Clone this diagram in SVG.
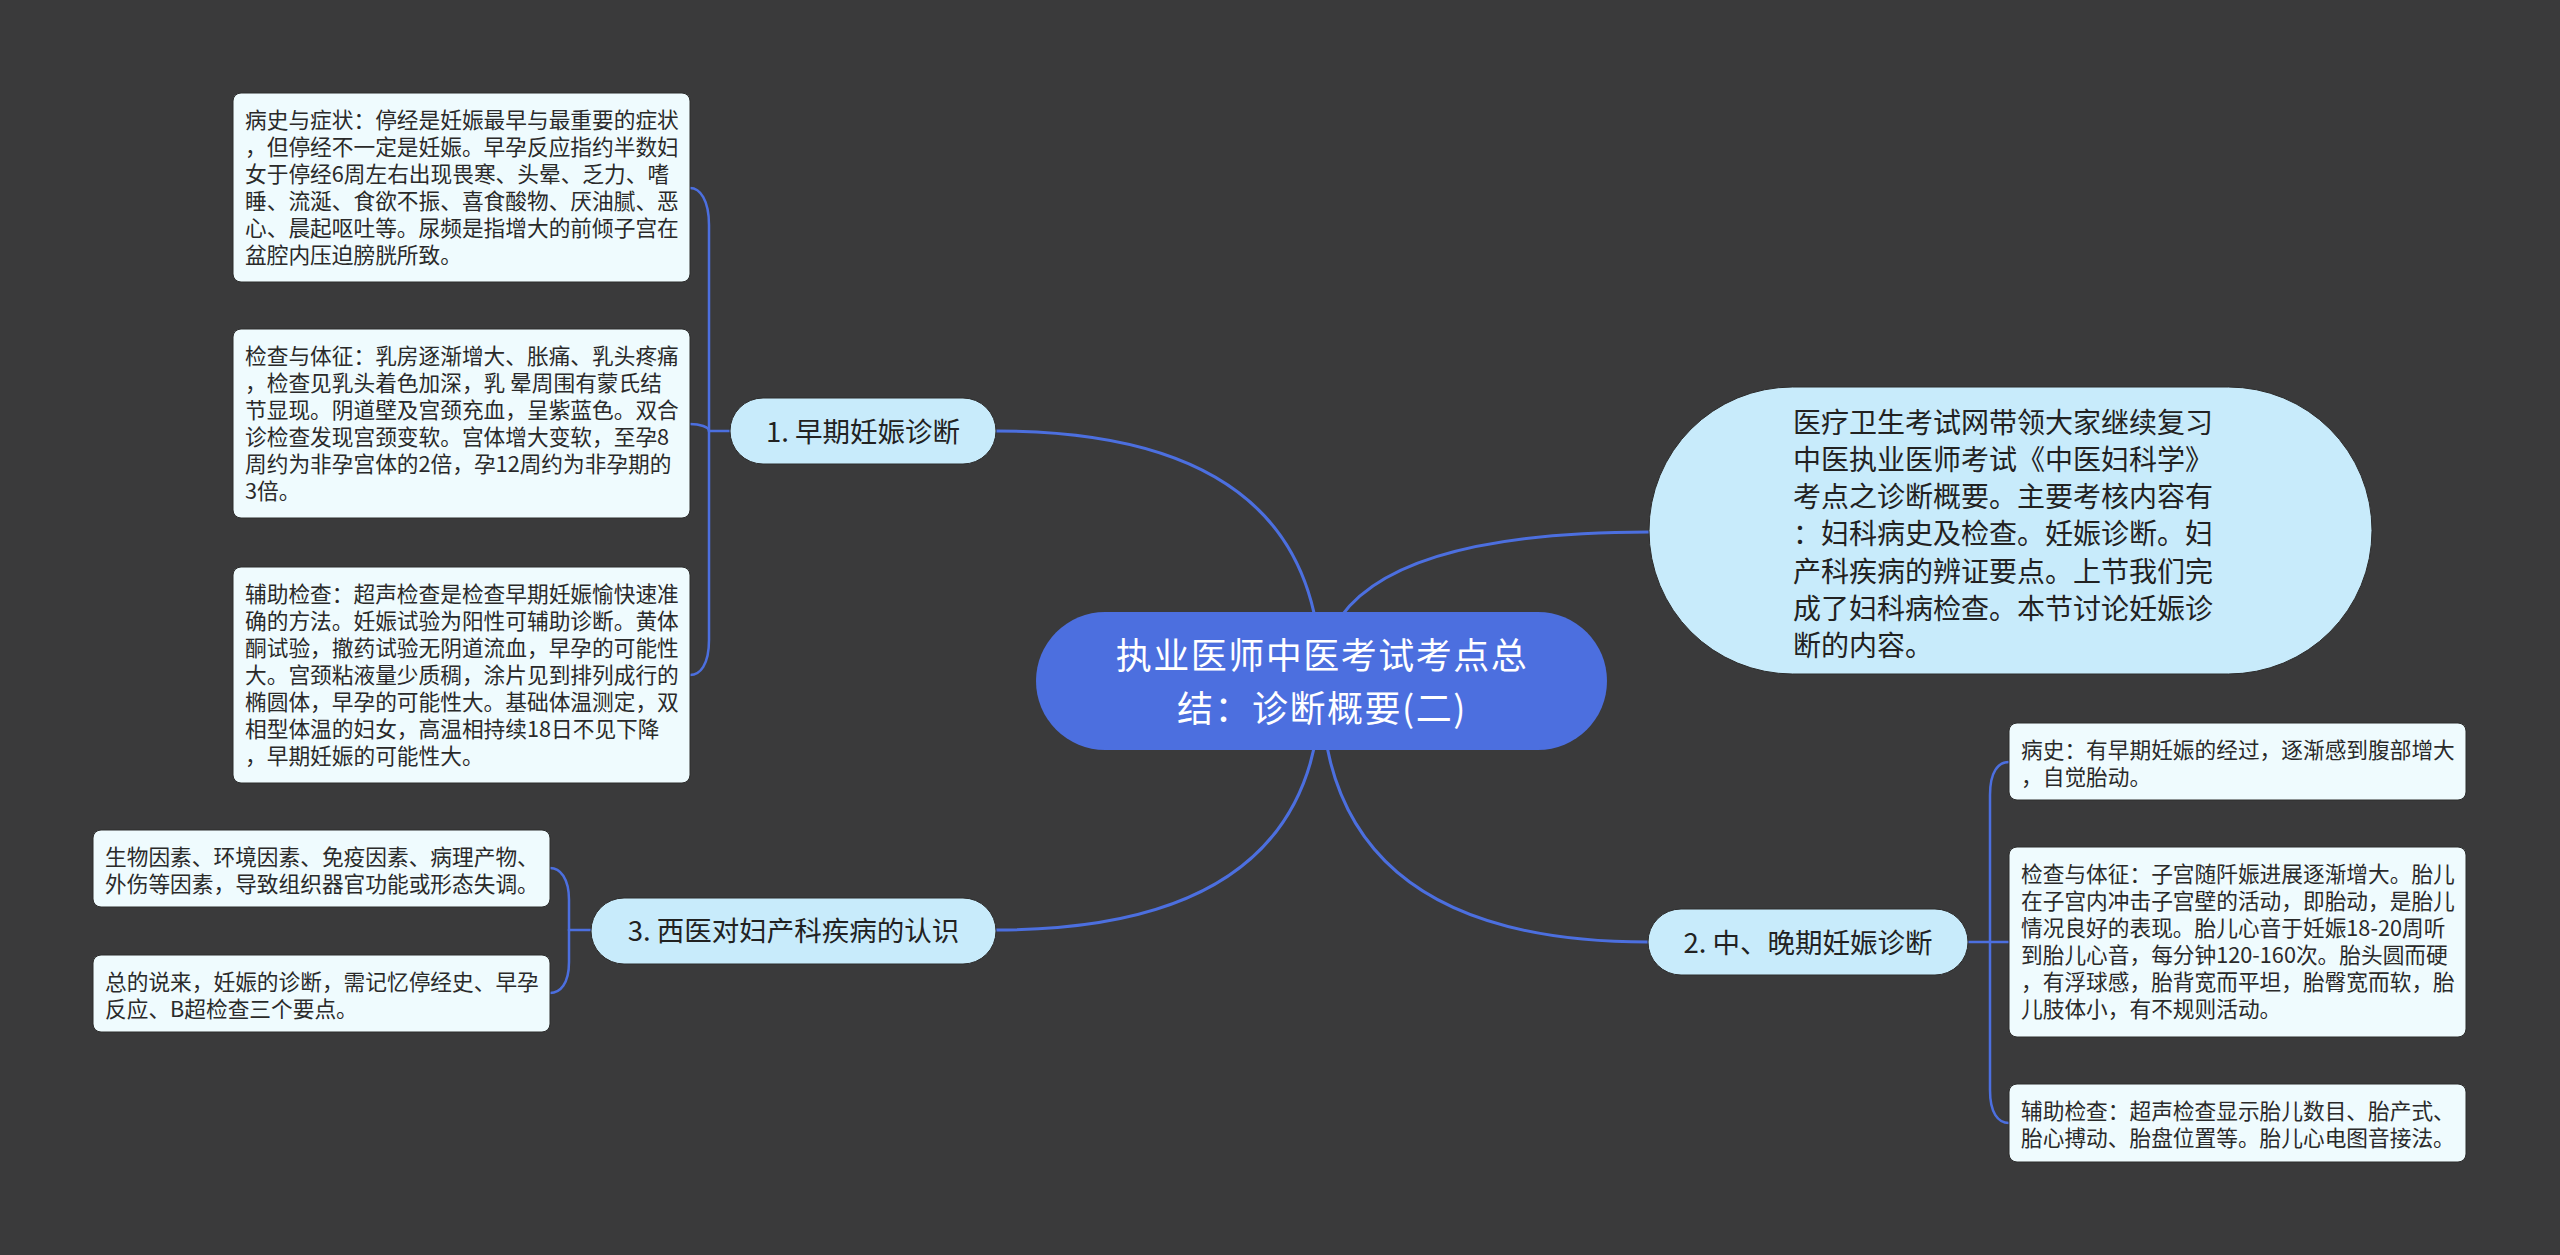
<svg xmlns="http://www.w3.org/2000/svg" width="2560" height="1255" viewBox="0 0 2560 1255">
<style>
.bg{fill:#3a3a3b}
.ln{fill:none;stroke:#4c6fdf;stroke-width:3;stroke-linecap:round}
.sl{fill:none;stroke:#4c6fdf;stroke-width:2.5;stroke-linecap:round}
.leaf{fill:#effbfe;stroke:#2c2c2c;stroke-width:1}
.pill{fill:#c8ebfb;stroke:#2c2c2c;stroke-width:1}
.root{fill:#4c6fdf}
.lt{font-family:"Noto Sans CJK SC","Noto Sans",sans-serif;font-size:21.7px;fill:#2a2a2a}
.pt{font-family:"Noto Sans CJK SC","Noto Sans",sans-serif;font-size:27.5px;fill:#222;text-anchor:middle}
.dt{font-family:"Noto Sans CJK SC","Noto Sans",sans-serif;font-size:28px;fill:#222}
.rt{font-family:"Noto Sans CJK SC","Noto Sans",sans-serif;font-size:36px;letter-spacing:1.5px;fill:#fff;text-anchor:middle}
</style>
<rect class="bg" x="0" y="0" width="2560" height="1255"/>
<g id="connectors">
<path class="ln" d="M1321 681 Q1321 431 996 431"/>
<path class="ln" d="M1321 681 Q1321 532 1649 532"/>
<path class="ln" d="M1321 681 Q1321 942 1648 942"/>
<path class="ln" d="M1321 681 Q1321 930 996 930"/>
<path class="sl" d="M730 431 L709 431"/>
<path class="sl" d="M709 431 L709 225 C709 200 700 188 690 188"/>
<path class="sl" d="M709 431 C709 427 700 424 690 424"/>
<path class="sl" d="M709 431 L709 640 C709 665 700 675 690 675"/>
<path class="sl" d="M591 930 L569 930"/>
<path class="sl" d="M569 930 L569 900 C569 878 560 868 550 868"/>
<path class="sl" d="M569 930 L569 962 C569 984 560 993 550 993"/>
<path class="sl" d="M1968 942 L2009 942"/>
<path class="sl" d="M1990 942 L1990 795 C1990 772 1998 762 2009 762"/>
<path class="sl" d="M1990 942 L1990 1090 C1990 1113 1998 1123 2009 1123"/>
</g>
<g id="root">
<rect class="root" x="1036" y="612" width="571" height="138" rx="69"/>
<text class="rt"><tspan x="1322" y="668.5">执业医师中医考试考点总</tspan><tspan x="1322" y="721.5">结：诊断概要(二)</tspan></text>
</g>
<g id="desc">
<rect class="pill" x="1649" y="387" width="723" height="287" rx="143.5"/>
<text class="dt" x="1793" y="432.5">医疗卫生考试网带领大家继续复习</text>
<text class="dt" x="1793" y="469.8">中医执业医师考试《中医妇科学》</text>
<text class="dt" x="1793" y="507.1">考点之诊断概要。主要考核内容有</text>
<text class="dt" x="1793" y="544.4">：妇科病史及检查。妊娠诊断。妇</text>
<text class="dt" x="1793" y="581.7">产科疾病的辨证要点。上节我们完</text>
<text class="dt" x="1793" y="619">成了妇科病检查。本节讨论妊娠诊</text>
<text class="dt" x="1793" y="656.3">断的内容。</text>
</g>
<g id="n1">
<rect class="pill" x="730" y="398" width="266" height="66" rx="33"/>
<text class="pt" x="863" y="441.5">1. 早期妊娠诊断</text>
</g>
<g id="n2">
<rect class="pill" x="1648" y="909" width="320" height="66" rx="33"/>
<text class="pt" x="1808" y="952.5">2. 中、晚期妊娠诊断</text>
</g>
<g id="n3">
<rect class="pill" x="591" y="898" width="405" height="66" rx="33"/>
<text class="pt" x="793.5" y="941">3. 西医对妇产科疾病的认识</text>
</g>
<g id="leafA">
<rect class="leaf" x="233" y="93" width="457" height="189" rx="8"/>
<text class="lt" x="245" y="128">病史与症状：停经是妊娠最早与最重要的症状</text>
<text class="lt" x="245" y="155">，但停经不一定是妊娠。早孕反应指约半数妇</text>
<text class="lt" x="245" y="182">女于停经6周左右出现畏寒、头晕、乏力、嗜</text>
<text class="lt" x="245" y="209">睡、流涎、食欲不振、喜食酸物、厌油腻、恶</text>
<text class="lt" x="245" y="236">心、晨起呕吐等。尿频是指增大的前倾子宫在</text>
<text class="lt" x="245" y="263">盆腔内压迫膀胱所致。</text>
</g>
<g id="leafB">
<rect class="leaf" x="233" y="329" width="457" height="189" rx="8"/>
<text class="lt" x="245" y="364">检查与体征：乳房逐渐增大、胀痛、乳头疼痛</text>
<text class="lt" x="245" y="391" xml:space="preserve">，检查见乳头着色加深，乳 晕周围有蒙氏结</text>
<text class="lt" x="245" y="418">节显现。阴道壁及宫颈充血，呈紫蓝色。双合</text>
<text class="lt" x="245" y="445">诊检查发现宫颈变软。宫体增大变软，至孕8</text>
<text class="lt" x="245" y="472">周约为非孕宫体的2倍，孕12周约为非孕期的</text>
<text class="lt" x="245" y="499">3倍。</text>
</g>
<g id="leafC">
<rect class="leaf" x="233" y="567" width="457" height="216" rx="8"/>
<text class="lt" x="245" y="602">辅助检查：超声检查是检查早期妊娠愉快速准</text>
<text class="lt" x="245" y="629">确的方法。妊娠试验为阳性可辅助诊断。黄体</text>
<text class="lt" x="245" y="656">酮试验，撤药试验无阴道流血，早孕的可能性</text>
<text class="lt" x="245" y="683">大。宫颈粘液量少质稠，涂片见到排列成行的</text>
<text class="lt" x="245" y="710">椭圆体，早孕的可能性大。基础体温测定，双</text>
<text class="lt" x="245" y="737">相型体温的妇女，高温相持续18日不见下降</text>
<text class="lt" x="245" y="764">，早期妊娠的可能性大。</text>
</g>
<g id="leafD">
<rect class="leaf" x="93" y="830" width="457" height="77" rx="8"/>
<text class="lt" x="105" y="865">生物因素、环境因素、免疫因素、病理产物、</text>
<text class="lt" x="105" y="892">外伤等因素，导致组织器官功能或形态失调。</text>
</g>
<g id="leafE">
<rect class="leaf" x="93" y="955" width="457" height="77" rx="8"/>
<text class="lt" x="105" y="990">总的说来，妊娠的诊断，需记忆停经史、早孕</text>
<text class="lt" x="105" y="1017">反应、B超检查三个要点。</text>
</g>
<g id="leafF">
<rect class="leaf" x="2009" y="723" width="457" height="77" rx="8"/>
<text class="lt" x="2021" y="758">病史：有早期妊娠的经过，逐渐感到腹部增大</text>
<text class="lt" x="2021" y="785">，自觉胎动。</text>
</g>
<g id="leafG">
<rect class="leaf" x="2009" y="847" width="457" height="190" rx="8"/>
<text class="lt" x="2021" y="882">检查与体征：子宫随阡娠进展逐渐增大。胎儿</text>
<text class="lt" x="2021" y="909">在子宫内冲击子宫壁的活动，即胎动，是胎儿</text>
<text class="lt" x="2021" y="936">情况良好的表现。胎儿心音于妊娠18-20周听</text>
<text class="lt" x="2021" y="963">到胎儿心音，每分钟120-160次。胎头圆而硬</text>
<text class="lt" x="2021" y="990">，有浮球感，胎背宽而平坦，胎臀宽而软，胎</text>
<text class="lt" x="2021" y="1017">儿肢体小，有不规则活动。</text>
</g>
<g id="leafH">
<rect class="leaf" x="2009" y="1084" width="457" height="78" rx="8"/>
<text class="lt" x="2021" y="1119">辅助检查：超声检查显示胎儿数目、胎产式、</text>
<text class="lt" x="2021" y="1146">胎心搏动、胎盘位置等。胎儿心电图音接法。</text>
</g>
</svg>
